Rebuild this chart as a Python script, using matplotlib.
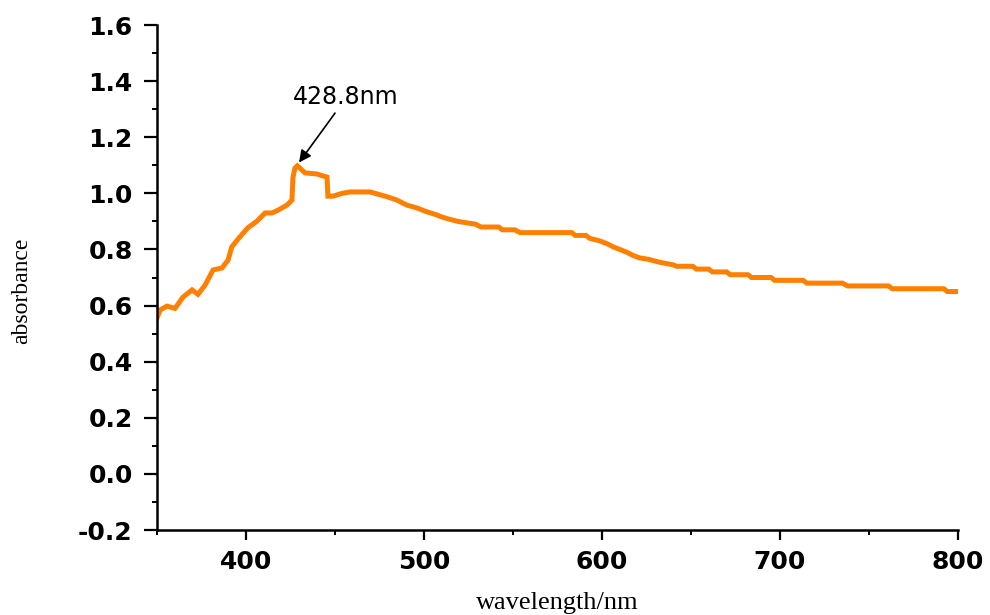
import matplotlib
matplotlib.use("Agg")
import matplotlib.pyplot as plt
from matplotlib.ticker import MultipleLocator

# UV-Vis absorption spectrum (stepped readout from the spectrometer)
wavelength = [350, 351.7, 355.6, 360.1, 364.6, 369.7, 373, 377, 381.5, 386.5,
              389.9, 392, 395.5, 401, 406, 410.7, 414.6, 418, 423, 425.8,
              426.4, 427.5, 428.8, 430.3, 433.1, 439.9, 443.3, 445.5, 446, 448.9,
              454, 458.4, 469.7, 473.6, 479.2, 484.8, 490.4, 496, 501.7, 507.3,
              509, 513, 519, 529, 532, 542, 544, 551, 554, 583,
              585, 591, 593, 599, 603, 606, 610, 614, 617, 621,
              626, 632, 640, 642, 651, 653, 660, 662, 670, 672,
              682, 684, 695, 697, 713, 715, 735, 738, 761, 763,
              792, 794, 800]
absorbance = [0.556, 0.584, 0.598, 0.59, 0.63, 0.656, 0.64, 0.673, 0.727, 0.734,
              0.762, 0.809, 0.837, 0.877, 0.90, 0.93, 0.93, 0.94, 0.958, 0.976,
              1.058, 1.09, 1.098, 1.09, 1.073, 1.069, 1.062, 1.058, 0.99, 0.99,
              1.0, 1.005, 1.005, 0.998, 0.988, 0.976, 0.958, 0.948, 0.934, 0.923,
              0.918, 0.91, 0.90, 0.89, 0.88, 0.88, 0.87, 0.87, 0.86, 0.86,
              0.85, 0.85, 0.84, 0.83, 0.82, 0.81, 0.80, 0.79, 0.78, 0.77,
              0.765, 0.755, 0.745, 0.74, 0.74, 0.73, 0.73, 0.72, 0.72, 0.71,
              0.71, 0.70, 0.70, 0.69, 0.69, 0.68, 0.68, 0.67, 0.67, 0.66,
              0.66, 0.65, 0.65]

peak_x = 428.8
peak_y = 1.098
peak_label = "428.8nm"

fig = plt.figure(figsize=(9.9, 6.15), dpi=100)
ax = fig.add_axes([0.1586, 0.1382, 0.8091, 0.8211])

ax.plot(wavelength, absorbance, color="#ff8000", linewidth=3.6,
        solid_joinstyle="miter")

# peak marker: label above, arrow pointing down to the maximum
ax.text(455.9, 1.345, peak_label, ha="center", va="center", fontsize=17,
        family="DejaVu Sans")
ax.annotate("", xy=(peak_x + 1.0, peak_y + 0.012), xytext=(450, 1.286),
            arrowprops=dict(arrowstyle="-|>", color="black", lw=1.2,
                            mutation_scale=18, shrinkA=0, shrinkB=0))

ax.set_xlim(350, 800)
ax.set_ylim(-0.2, 1.6)
ax.xaxis.set_major_locator(MultipleLocator(100))
ax.xaxis.set_minor_locator(MultipleLocator(50))
ax.yaxis.set_major_locator(MultipleLocator(0.2))
ax.yaxis.set_minor_locator(MultipleLocator(0.1))
ax.yaxis.set_major_formatter(plt.FormatStrFormatter("%.1f"))

for side in ("top", "right"):
    ax.spines[side].set_visible(False)
for side in ("left", "bottom"):
    ax.spines[side].set_linewidth(1.8)

ax.tick_params(axis="y", which="major", direction="out", length=9.5,
               width=1.6, pad=8)
ax.tick_params(axis="x", which="major", direction="out", length=7.5,
               width=1.6, pad=7)
ax.tick_params(which="minor", direction="out", length=3.5, width=1.4)
for lab in ax.get_xticklabels() + ax.get_yticklabels():
    lab.set_family("DejaVu Sans")
    lab.set_fontweight("bold")
    lab.set_fontsize(18)

ax.set_xlabel("wavelength/nm", family="Liberation Serif", fontsize=19,
              va="center")
ax.set_ylabel("absorbance", family="Liberation Serif", fontsize=17,
              va="center")
ax.xaxis.set_label_coords(0.4994, -0.1446)
ax.yaxis.set_label_coords(-0.1685, 0.473)

fig.savefig("out.png", dpi=100)
